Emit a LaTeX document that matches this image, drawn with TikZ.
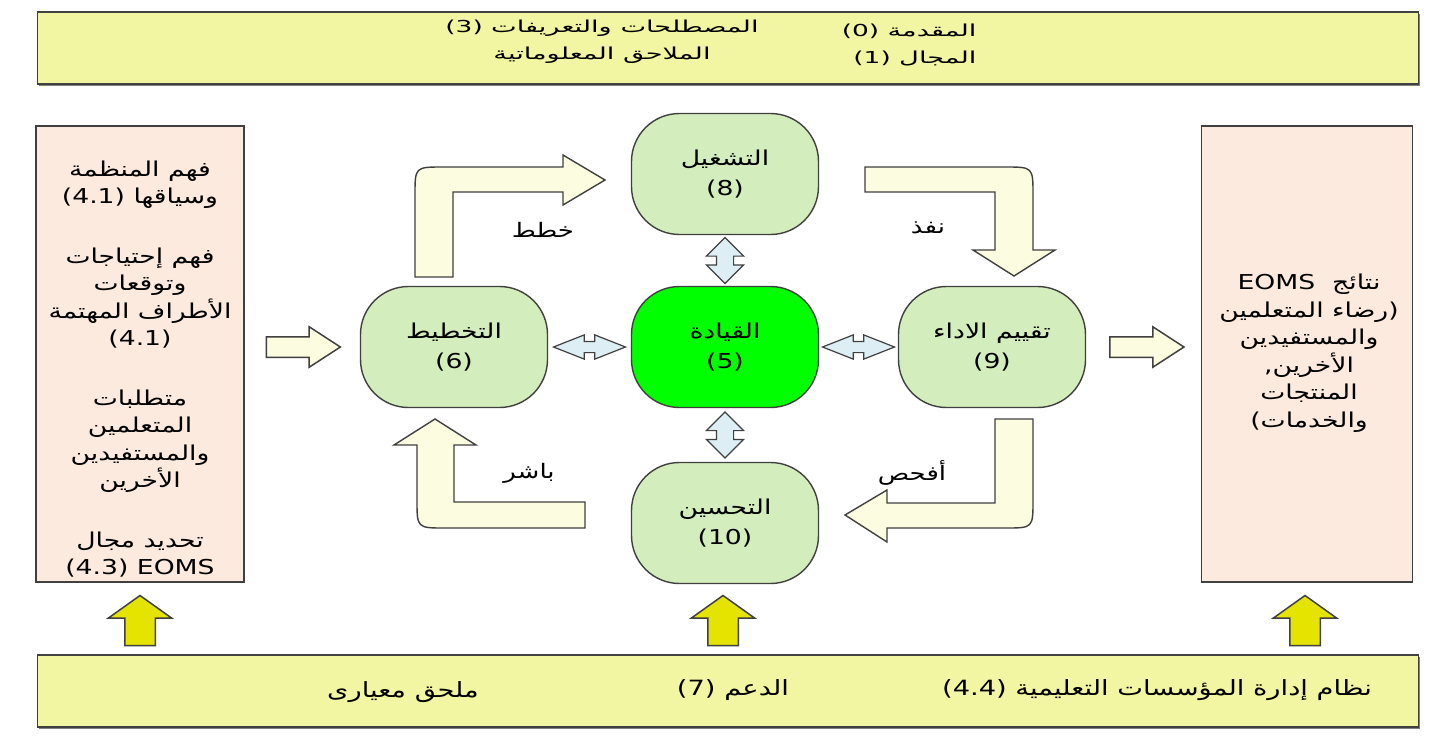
\documentclass[tikz,border=0pt]{standalone}
\usepackage{fontspec}
\setmainfont[FakeStretch=1.3]{DejaVu Sans}
\newfontfamily\arabicfont[Script=Arabic,FakeStretch=1.3]{DejaVu Sans}
\newfontfamily\widefont[FakeStretch=1.6]{DejaVu Sans}
\newfontfamily\arabicwide[Script=Arabic,FakeStretch=1.65]{DejaVu Sans}
\TeXXeTstate=1
\usetikzlibrary{shapes.arrows,calc,shadows}
\newcommand{\artxt}[1]{{\arabicfont\beginR #1\endR}}

\definecolor{bandyellow}{RGB}{242,246,162}
\definecolor{peach}{RGB}{252,234,222}
\definecolor{stagegreen}{RGB}{211,237,189}
\definecolor{leadgreen}{RGB}{0,255,0}
\definecolor{dblblue}{RGB}{221,238,244}
\definecolor{cream}{RGB}{252,252,224}
\definecolor{arrowyellow}{RGB}{228,228,0}
\definecolor{edgegray}{RGB}{64,64,64}

\tikzset{
  stage/.style={draw=edgegray, line width=1.4pt, fill=stagegreen, rounded corners=48pt,
    minimum width=187pt, minimum height=121pt, align=center, font=\fontsize{20.5}{30}\selectfont},
  sidebox/.style={draw=edgegray, line width=1.2pt, fill=peach, minimum width=208pt, minimum height=456pt},
  sidetext/.style={align=center, font=\fontsize{20.5}{27.5}\selectfont},
  band/.style={draw=edgegray, line width=1.5pt, fill=bandyellow, minimum width=1381pt, minimum height=72pt,
    drop shadow={shadow xshift=1.5pt, shadow yshift=-1.5pt, fill=gray, opacity=1}},
  toptext/.style={font=\fontsize{16.5}{20}\widefont\let\arabicfont\arabicwide},
  bottext/.style={font=\fontsize{21}{24}\selectfont},
  steplabel/.style={font=\fontsize{20}{24}\selectfont},
  bent/.style={draw=edgegray, line width=1.4pt, fill=cream},
  dblarrow/.style={double arrow, draw=edgegray, line width=1.2pt, fill=dblblue},
  vdbl/.style={dblarrow, shape border rotate=90, inner xsep=8pt, inner ysep=0pt, minimum height=46pt,
    minimum width=36pt, double arrow head extend=10pt, double arrow tip angle=90},
  hdbl/.style={dblarrow, inner xsep=0pt, inner ysep=5pt, minimum height=72pt, minimum width=23pt,
    double arrow head extend=6.5pt, double arrow tip angle=43},
  sidearrow/.style={single arrow, draw=edgegray, line width=1.5pt, fill=cream, inner xsep=0pt, inner ysep=9.5pt,
    minimum height=74pt, minimum width=39pt, single arrow head extend=10pt, single arrow tip angle=66,
    anchor=tail},
  uparrow/.style={single arrow, shape border rotate=90, draw=edgegray, line width=1.5pt, fill=arrowyellow,
    inner xsep=14.5pt, inner ysep=0pt, minimum height=50pt, minimum width=62pt,
    single arrow head extend=16.5pt, single arrow tip angle=109, anchor=tail},
}

\begin{document}
\begin{tikzpicture}[x=1pt, y=-1pt]
    \fill[white] (0,0) rectangle (1432,742);
    \useasboundingbox (0,0) rectangle (1432,742);

    % Top band
    \node[band] (topband) at (728,48) {};
    \node[toptext, anchor=east] (intro) at (980,31) {(0) \artxt{المقدمة}};
    \node[toptext, anchor=east] (scope) at (980,58) {(1) \artxt{المجال}};
    \node[toptext] (terms) at (602,28) {(3) \artxt{المصطلحات والتعريفات}};
    \node[toptext] (annexes) at (602,55) {\artxt{الملاحق المعلوماتية}};

    % Context (left)
    \node[sidebox] (context) at (140,354) {};
    \node[sidetext] (contexttext) at (140,369) {%
        \artxt{فهم المنظمة}\\
        (4.1) \artxt{وسياقها}\\[32pt]
        \artxt{فهم إحتياجات}\\
        \artxt{وتوقعات}\\
        \artxt{الأطراف المهتمة}\\
        (4.1)\\[32pt]
        \artxt{متطلبات}\\
        \artxt{المتعلمين}\\
        \artxt{والمستفيدين}\\
        \artxt{الأخرين}\\[32pt]
        \artxt{تحديد مجال}\\
        (4.3) EOMS};

    % Results (right)
    \node[sidebox, minimum width=211pt] (results) at (1307,354) {};
    \node[sidetext] (resultstext) at (1309,353) {%
        EOMS\ \ \artxt{نتائج}\\
        \artxt{رضاء المتعلمين})\\
        \artxt{والمستفيدين}\\
        ,\artxt{الأخرين}\\
        \artxt{المنتجات}\\
        (\artxt{والخدمات}};

    % Cycle
    \node[stage] (oper) at (725,174) {\artxt{التشغيل}\\(8)};
    \node[stage, fill=leadgreen] (lead) at (725,347) {\artxt{القيادة}\\(5)};
    \node[stage] (plan) at (454,347) {\artxt{التخطيط}\\(6)};
    \node[stage] (eval) at (992,347) {\artxt{تقييم الاداء}\\(9)};
    \node[stage] (impr) at (725,523) {\artxt{التحسين}\\(10)};

    \node[vdbl] (d1) at ($(oper.south)!.5!(lead.north)$) {};
    \node[vdbl] (d2) at ($(lead.south)!.5!(impr.north)$) {};
    \node[hdbl] (d3) at ($(plan.east)!.5!(lead.west)$) {};
    \node[hdbl] (d4) at ($(lead.east)!.5!(eval.west)$) {};

    % Bent arrows
    \draw [bent] (415,277) -- (415,195) .. controls (415,167) .. (443,167) -- (563,167) -- (563,155)
        -- (605,180) -- (563,205) -- (563,192) -- (453,192) -- (453,277) -- cycle;
    \draw [bent] (865,167) -- (1005,167) .. controls (1033,167) .. (1033,195) -- (1033,250) -- (1055,250)
        -- (1014,276) -- (973,250) -- (995,250) -- (995,192) -- (865,192) -- cycle;
    \draw [bent] (995,419) -- (1033,419) -- (1033,500) .. controls (1033,528) .. (1005,528) -- (887,528)
        -- (887,542) -- (845,515) -- (887,490) -- (887,503) -- (995,503) -- cycle;
    \draw [bent] (585,502) -- (454,502) -- (454,445) -- (476,445) -- (435,419) -- (394,445) -- (417,445)
        -- (417,500) .. controls (417,528) .. (445,528) -- (585,528) -- cycle;
    \node[steplabel] (plando) at (543,230) {\artxt{خطط}};
    \node[steplabel] (dodo) at (928,228) {\artxt{نفذ}};
    \node[steplabel] (check) at (912,473) {\artxt{أفحص}};
    \node[steplabel] (act) at (529,473) {\artxt{باشر}};

    % In and out
    \node[sidearrow] (inarrow) at ($(context.east)+(21,-7)$) {};
    \node[sidearrow] (outarrow) at ($(eval.east)+(23,0)$) {};

    % Bottom band
    \node[band] (botband) at (728,691) {};
    \node[bottext] (annex) at (403,692) {\artxt{ملحق معيارى}};
    \node[bottext] (support) at (733,690) {(7) \artxt{الدعم}};
    \node[bottext] (system) at (1157,690) {(4.4) \artxt{نظام إدارة المؤسسات التعليمية}};

    \node[uparrow] (up1) at ($(context.south |- botband.north)+(0,-8)$) {};
    \node[uparrow] (up2) at ($(impr.south |- botband.north)+(-2,-8)$) {};
    \node[uparrow] (up3) at ($(results.south |- botband.north)+(-2,-8)$) {};
\end{tikzpicture}
\end{document}
